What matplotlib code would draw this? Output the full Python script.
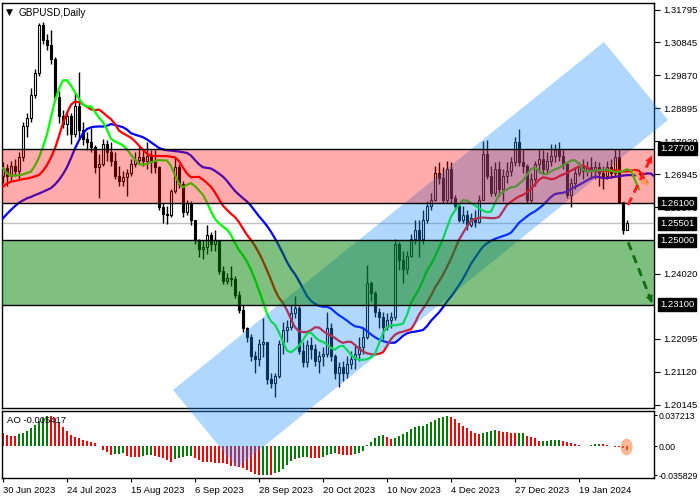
import matplotlib
matplotlib.use('Agg')
import matplotlib.pyplot as plt
import matplotlib.transforms as mtransforms
from matplotlib.patches import Polygon, Ellipse

# ---- daily GBPUSD candles, 30 Jun 2023 .. 6 Feb 2024 ----
first_open = 1.2690
closes = [
    1.2712, 1.2690, 1.2718, 1.2705, 1.2745, 1.2838, 1.2860, 1.2930, 1.2995, 1.3135,
    1.3090, 1.3075, 1.3035, 1.2922, 1.2868, 1.2842, 1.2868, 1.2815, 1.2895, 1.2825,
    1.2800, 1.2790, 1.2775, 1.2715, 1.2725, 1.2785, 1.2760, 1.2735, 1.2690, 1.2675,
    1.2688, 1.2700, 1.2725, 1.2738, 1.2745, 1.2735, 1.2750, 1.2735, 1.2715, 1.2598,
    1.2578, 1.2575, 1.2645, 1.2715, 1.2665, 1.2585, 1.2610, 1.2560, 1.2500, 1.2475,
    1.2480, 1.2515, 1.2490, 1.2500, 1.2410, 1.2380, 1.2390, 1.2385, 1.2340, 1.2295,
    1.2240, 1.2215, 1.2158, 1.2150, 1.2195, 1.2200, 1.2090, 1.2080, 1.2100, 1.2195,
    1.2235, 1.2245, 1.2285, 1.2300, 1.2175, 1.2140, 1.2190, 1.2180, 1.2145, 1.2160,
    1.2165, 1.2240, 1.2160, 1.2110, 1.2125, 1.2110, 1.2135, 1.2150, 1.2165, 1.2185,
    1.2215, 1.2375, 1.2345, 1.2290, 1.2275, 1.2245, 1.2265, 1.2275, 1.2490, 1.2442,
    1.2415, 1.2455, 1.2505, 1.2530, 1.2505, 1.2560, 1.2600, 1.2620, 1.2700, 1.2685,
    1.2620, 1.2710, 1.2625, 1.2600, 1.2560, 1.2575, 1.2545, 1.2565, 1.2555, 1.2620,
    1.2755, 1.2690, 1.2640, 1.2710, 1.2650, 1.2690, 1.2705, 1.2730, 1.2790, 1.2730,
    1.2720, 1.2620, 1.2680, 1.2725, 1.2740, 1.2710, 1.2735, 1.2750, 1.2765, 1.2750,
    1.2725, 1.2635, 1.2670, 1.2700, 1.2715, 1.2705, 1.2715, 1.2705, 1.2715, 1.2700,
    1.2690, 1.2715, 1.2700, 1.2745, 1.2612, 1.2530, 1.2550]
highs = [
    1.2730, 1.2725, 1.2735, 1.2740, 1.2760, 1.2848, 1.2875, 1.2950, 1.3005, 1.3140,
    1.3144, 1.3110, 1.3121, 1.3040, 1.2940, 1.2885, 1.2880, 1.2875, 1.2935, 1.2996,
    1.2850, 1.2820, 1.2830, 1.2780, 1.2755, 1.2800, 1.2795, 1.2790, 1.2760, 1.2720,
    1.2705, 1.2710, 1.2740, 1.2760, 1.2775, 1.2770, 1.2790, 1.2765, 1.2767, 1.2720,
    1.2610, 1.2600, 1.2650, 1.2745, 1.2725, 1.2675, 1.2620, 1.2617, 1.2560, 1.2505,
    1.2500, 1.2545, 1.2525, 1.2530, 1.2500, 1.2425, 1.2405, 1.2425, 1.2395, 1.2350,
    1.2310, 1.2245, 1.2225, 1.2175, 1.2210, 1.2270, 1.2200, 1.2110, 1.2110, 1.2205,
    1.2260, 1.2265, 1.2310, 1.2335, 1.2310, 1.2200, 1.2205, 1.2215, 1.2195, 1.2175,
    1.2185, 1.2290, 1.2255, 1.2165, 1.2140, 1.2145, 1.2160, 1.2175, 1.2190, 1.2215,
    1.2240, 1.2428, 1.2380, 1.2350, 1.2300, 1.2290, 1.2285, 1.2290, 1.2505, 1.2495,
    1.2470, 1.2470, 1.2520, 1.2560, 1.2560, 1.2590, 1.2615, 1.2640, 1.2720, 1.2731,
    1.2715, 1.2735, 1.2730, 1.2635, 1.2610, 1.2600, 1.2590, 1.2580, 1.2590, 1.2635,
    1.2792, 1.2795, 1.2720, 1.2730, 1.2735, 1.2710, 1.2730, 1.2745, 1.2805, 1.2828,
    1.2770, 1.2725, 1.2700, 1.2735, 1.2770, 1.2765, 1.2760, 1.2785, 1.2785, 1.2790,
    1.2770, 1.2730, 1.2685, 1.2715, 1.2730, 1.2740, 1.2735, 1.2745, 1.2735, 1.2730,
    1.2720, 1.2735, 1.2740, 1.2770, 1.2770, 1.2612, 1.2560]
lows = [
    1.2668, 1.2660, 1.2675, 1.2690, 1.2680, 1.2735, 1.2805, 1.2850, 1.2920, 1.2985,
    1.3080, 1.3060, 1.3020, 1.2910, 1.2845, 1.2830, 1.2810, 1.2785, 1.2805, 1.2800,
    1.2780, 1.2765, 1.2760, 1.2700, 1.2625, 1.2720, 1.2735, 1.2720, 1.2680, 1.2660,
    1.2660, 1.2630, 1.2690, 1.2715, 1.2725, 1.2720, 1.2710, 1.2700, 1.2700, 1.2590,
    1.2550, 1.2548, 1.2570, 1.2640, 1.2655, 1.2570, 1.2575, 1.2545, 1.2490, 1.2450,
    1.2445, 1.2460, 1.2470, 1.2470, 1.2400, 1.2370, 1.2370, 1.2365, 1.2330, 1.2285,
    1.2230, 1.2200, 1.2145, 1.2110, 1.2130, 1.2155, 1.2075, 1.2065, 1.2037, 1.2095,
    1.2165, 1.2200, 1.2235, 1.2270, 1.2165, 1.2125, 1.2125, 1.2150, 1.2130, 1.2110,
    1.2130, 1.2155, 1.2145, 1.2090, 1.2067, 1.2085, 1.2095, 1.2120, 1.2120, 1.2145,
    1.2165, 1.2210, 1.2320, 1.2275, 1.2240, 1.2210, 1.2235, 1.2240, 1.2265, 1.2413,
    1.2374, 1.2400, 1.2450, 1.2490, 1.2451, 1.2490, 1.2550, 1.2590, 1.2615, 1.2665,
    1.2610, 1.2610, 1.2610, 1.2590, 1.2555, 1.2550, 1.2530, 1.2540, 1.2540, 1.2550,
    1.2620, 1.2680, 1.2630, 1.2630, 1.2630, 1.2615, 1.2670, 1.2690, 1.2720, 1.2720,
    1.2700, 1.2610, 1.2610, 1.2660, 1.2700, 1.2700, 1.2700, 1.2720, 1.2730, 1.2735,
    1.2710, 1.2625, 1.2597, 1.2650, 1.2690, 1.2680, 1.2690, 1.2680, 1.2680, 1.2660,
    1.2650, 1.2680, 1.2685, 1.2690, 1.2610, 1.2518, 1.2530]

# Alligator lines: the part left of the first computed point
jaw_head = [1.2565, 1.2578, 1.2590, 1.2601, 1.2611, 1.2618, 1.2624, 1.2628]
teeth_head = [1.2658, 1.2668, 1.2673, 1.2675, 1.2678]
lips_head = [1.2713, 1.2698, 1.2690]

# Awesome Oscillator values
ao_prev = 0.0160
ao = [
    0.0155, 0.0134, 0.0126, 0.0122, 0.0142, 0.0163, 0.0183, 0.0215, 0.0256, 0.0305,
    0.0346, 0.0372, 0.0366, 0.0337, 0.0297, 0.0236, 0.0183, 0.0134, 0.0106, 0.0093,
    0.0073, 0.0065, 0.0053, 0.0033, 0.0004, -0.0049, -0.0069, -0.0104, -0.0102, -0.0094,
    -0.0090, -0.0118, -0.0128, -0.0132, -0.0138, -0.0122, -0.0112, -0.0110, -0.0118, -0.0130,
    -0.0150, -0.0170, -0.0190, -0.0163, -0.0142, -0.0130, -0.0120, -0.0118, -0.0150, -0.0170,
    -0.0190, -0.0198, -0.0200, -0.0203, -0.0205, -0.0212, -0.0224, -0.0238, -0.0248, -0.0252,
    -0.0270, -0.0290, -0.0312, -0.0340, -0.0358, -0.0356, -0.0354, -0.0357, -0.0335, -0.0312,
    -0.0275, -0.0232, -0.0180, -0.0160, -0.0145, -0.0138, -0.0137, -0.0142, -0.0150, -0.0152,
    -0.0130, -0.0112, -0.0100, -0.0088, -0.0095, -0.0105, -0.0112, -0.0114, -0.0100, -0.0090,
    -0.0062, 0.0012, 0.0053, 0.0102, 0.0122, 0.0134, 0.0106, 0.0081, 0.0102, 0.0122,
    0.0142, 0.0175, 0.0203, 0.0232, 0.0244, 0.0248, 0.0264, 0.0289, 0.0313, 0.0337,
    0.0354, 0.0366, 0.0350, 0.0329, 0.0285, 0.0244, 0.0215, 0.0187, 0.0163, 0.0150,
    0.0163, 0.0175, 0.0187, 0.0191, 0.0189, 0.0167, 0.0165, 0.0163, 0.0162, 0.0163,
    0.0164, 0.0126, 0.0110, 0.0093, 0.0062, 0.0063, 0.0066, 0.0069, 0.0072, 0.0075,
    0.0065, 0.0053, 0.0037, 0.0020, 0.0008, 0.0005, 0.0003, 0.0016, 0.0024, 0.0028,
    0.0020, 0.0008, -0.0004, -0.0008, -0.0012, -0.0020, -0.0049]

date_labels = ['30 Jun 2023', '24 Jul 2023', '15 Aug 2023', '6 Sep 2023', '28 Sep 2023',
               '20 Oct 2023', '10 Nov 2023', '4 Dec 2023', '27 Dec 2023', '19 Jan 2024']
price_ticks = [1.31795, 1.30845, 1.29870, 1.28895, 1.27920, 1.26945, 1.25970,
               1.24020, 1.22095, 1.21120, 1.20145]
boxed_levels = [1.27700, 1.26100, 1.25501, 1.25000, 1.23100]
ao_ticks = [0.037213, 0.0, -0.035829]
ao_tick_labels = ['0.037213', '0.00', '-0.035829']

# zones / channel / forecast arrows (bar index, price)
sell_zone = (1.2610, 1.2770)
buy_zone = (1.2310, 1.2500)
last_price = 1.25501
channel = [(42.5, 1.20586), (150.25, 1.30851), (166.25, 1.28550), (58.5, 1.18285)]

plt.rcParams['font.family'] = ['Liberation Sans', 'DejaVu Sans']
FS = 6.8

n = len(closes)
idx = list(range(n))
opens = [first_open] + closes[:-1]
median = [(h + l) / 2 for h, l in zip(highs, lows)]


def smma(values, period, seed):
    out, s = [], seed
    for v in values:
        s = (s * (period - 1) + v) / period
        out.append(s)
    return out


jaw = jaw_head + smma(median, 13, jaw_head[-1])
teeth = teeth_head + smma(median, 8, teeth_head[-1])
lips = lips_head + smma(median, 5, lips_head[-1])

fig = plt.figure(figsize=(7, 5), dpi=100)
ax = fig.add_axes([2 / 700, 1 - 408 / 500, 652 / 700, 405 / 500])
ax2 = fig.add_axes([2 / 700, 1 - 478 / 500, 652 / 700, 67 / 500])
ax.set_zorder(2)
ax2.set_zorder(1)
ax.patch.set_alpha(0)

xlim = (-0.25, 162.75)

# candles
ax.vlines(idx, lows, highs, color='black', lw=1, zorder=2)
bottoms = [min(o, c) for o, c in zip(opens, closes)]
heights = [max(abs(c - o), 0.00005) for o, c in zip(opens, closes)]
faces = ['white' if c >= o else 'black' for o, c in zip(opens, closes)]
ax.bar(idx, heights, bottom=bottoms, width=0.72, color=faces, edgecolor='black',
       lw=0.8, zorder=2)

# alligator
ax.plot(range(len(jaw)), jaw, color='#0000ff', lw=1.6, zorder=3)
ax.plot(range(len(teeth)), teeth, color='#ff0000', lw=1.6, zorder=3)
ax.plot(range(len(lips)), lips, color='#00ff00', lw=1.6, zorder=3)

# price line, zones, channel
ax.axhline(last_price, color='#c0c0c0', lw=1, zorder=1)
ax.axhspan(*sell_zone, color='#ff0000', alpha=0.33, lw=0, zorder=5)
ax.axhspan(*buy_zone, color='#008000', alpha=0.5, lw=0, zorder=5)
for lvl in sell_zone + buy_zone:
    ax.axhline(lvl, color='black', lw=1, zorder=6)
ax.add_patch(Polygon(channel, closed=True, fc='#1e90ff', ec='none', alpha=0.35,
                     zorder=4, clip_on=False))


def dashed_arrow(p0, p1, color):
    ax.plot([p0[0], p1[0]], [p0[1], p1[1]], color=color, lw=2,
            ls=(0, (3, 2)), zorder=7, solid_capstyle='butt')
    t = 0.72
    mid = (p0[0] + (p1[0] - p0[0]) * t, p0[1] + (p1[1] - p0[1]) * t)
    ax.annotate('', xy=p1, xytext=mid, zorder=8,
                arrowprops=dict(arrowstyle='-|>', color=color, lw=0.1,
                                mutation_scale=13, shrinkA=0, shrinkB=0))


dashed_arrow((156.25, 1.2604), (162.25, 1.2750), '#ff1a1a')
dashed_arrow((157.5, 1.2705), (161.3, 1.2663), '#ff9a50')
dashed_arrow((156.3, 1.2494), (162.25, 1.2316), '#0f6e0f')

ax.set_xlim(*xlim)
ax.set_ylim(1.20054, 1.32001)
ax.yaxis.tick_right()
ax.set_yticks(price_ticks)
ax.set_yticklabels([f'{p:.5f}' for p in price_ticks])
ax.tick_params(axis='y', direction='out', length=4, width=0.8, labelsize=FS, pad=3)
ax.set_xticks([])
for s in ax.spines.values():
    s.set_linewidth(1)

btrans = mtransforms.blended_transform_factory(ax.transAxes, ax.transData)
for lvl in boxed_levels:
    ax.text(1.0095, lvl, f'{lvl:.5f}', transform=btrans, ha='left', va='center',
            color='white', fontsize=FS, zorder=12, clip_on=False,
            bbox=dict(boxstyle='square,pad=0.2', fc='black', ec='black'))

ax.text(0.006, 0.987, '\u25bc', transform=ax.transAxes, fontsize=6.5, va='top',
        ha='left', family='DejaVu Sans')
ax.text(0.026, 0.988, 'GBPUSD,Daily', transform=ax.transAxes, fontsize=7.2,
        va='top', ha='left')

# AO panel
prev = [ao_prev] + ao[:-1]
ao_colors = ['#008000' if v >= p else '#ff0000' for v, p in zip(ao, prev)]
ax2.bar(idx, ao, width=0.7, color=ao_colors, lw=0, zorder=2)
ax2.add_patch(Ellipse((155.9, -0.0012), 3.0, 0.0205, fc='#ff7f3f', ec='none',
                      alpha=0.55, zorder=4))
ax2.set_xlim(*xlim)
ax2.set_ylim(-0.039, 0.0427)
ax2.yaxis.tick_right()
ax2.set_yticks(ao_ticks)
ax2.set_yticklabels(ao_tick_labels)
ax2.tick_params(axis='y', direction='out', length=2, width=0.8, labelsize=6.3, pad=1)
ax2.set_xticks([16 * i for i in range(len(date_labels))])
ax2.set_xticklabels(date_labels, ha='left')
ax2.tick_params(axis='x', direction='out', length=3, width=0.8, labelsize=FS, pad=3)
for s in ax2.spines.values():
    s.set_linewidth(1)
ax2.text(0.008, 0.93, 'AO -0.005417', transform=ax2.transAxes, fontsize=FS,
         va='top', ha='left')

fig.savefig('out.png', dpi=100)
